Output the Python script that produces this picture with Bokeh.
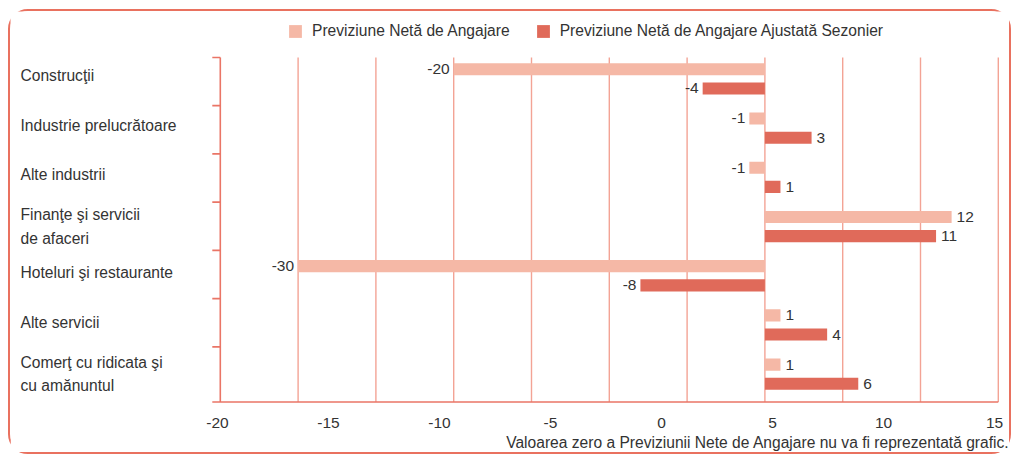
from bokeh.plotting import figure
from bokeh.models import (Range1d, LinearAxis, FixedTicker, ColumnDataSource,
                          Legend, LegendItem, Title)
from bokeh.embed import file_html
from bokeh.resources import INLINE
from bokeh.core.properties import value

# ---------------- data ----------------
categories = [
    "Construcţii",
    "Industrie prelucrătoare",
    "Alte industrii",
    "Finanţe şi servicii\nde afaceri",
    "Hoteluri şi restaurante",
    "Alte servicii",
    "Comerţ cu ridicata şi\ncu amănuntul",
]
neta = [-20, -1, -1, 12, -30, 1, 1]
ajustata = [-4, 3, 1, 11, -8, 4, 6]
series_names = ["Previziune Netă de Angajare",
                "Previziune Netă de Angajare Ajustată Sezonier"]
tick_labels = [-20, -15, -10, -5, 0, 5, 10, 15]
grid_values = [-35, -30, -25, -20, -15, -10, -5, 0, 5, 10, 15]
footnote = "Valoarea zero a Previziunii Nete de Angajare nu va fi reprezentată grafic."

# ---------------- style ----------------
FONT = "Liberation Sans"
LIGHT = "#F5B8A6"
DARK = "#E06A5A"
GRID = "#F3A395"
AXIS = "#EA7566"
TEXT = "#333333"

W = 999          # frame width (px)
FH = 392         # frame height (px)
PX = 15.56       # px per data unit
ZERO_PX = 754.4  # px position of zero inside the frame
x_start = -ZERO_PX / PX
x_end = (W - ZERO_PX) / PX
LAB_PX = 22.2
lab_start = -20 - 207 / LAB_PX
lab_end = 15 + (W - 984) / LAB_PX

p = figure(frame_width=W, frame_height=FH,
           x_range=Range1d(x_start, x_end), y_range=Range1d(7.03, -0.933),
           x_axis_location=None, y_axis_location=None,
           toolbar_location=None, output_backend="svg",
           min_border=0, outline_line_color=None)
p.grid.visible = False
p.background_fill_color = "white"
p.border_fill_color = "white"
p.styles = {"border": "2px solid #E9715F", "border-radius": "20px",
            "margin-left": "8px", "margin-top": "9px"}
p.extra_x_ranges = {"lab": Range1d(lab_start, lab_end)}

left_edge = grid_values[0]
n = len(categories)
tick_len = 8 / PX

# grid lines
gx = grid_values[1:]
p.segment(x0=gx, x1=gx, y0=[0] * len(gx), y1=[n] * len(gx),
          line_color=GRID, line_width=1.4)
# axis lines
p.segment(x0=[left_edge], x1=[left_edge], y0=[0], y1=[n],
          line_color=AXIS, line_width=1.6)
p.segment(x0=[left_edge - tick_len], x1=[grid_values[-1]], y0=[n], y1=[n],
          line_color=AXIS, line_width=1.6)
tick_y = [i * 0.98 for i in range(n)]
p.segment(x0=[left_edge - tick_len] * n, x1=[left_edge] * n, y0=tick_y, y1=tick_y,
          line_color=AXIS, line_width=1.6)

# bars
y_light = [i + 0.24 for i in range(n)]
y_dark = [i + 0.63 for i in range(n)]
r1 = p.hbar(y=y_light, left=0, right=neta, height=0.245,
            fill_color=LIGHT, line_color=None)
r2 = p.hbar(y=y_dark, left=0, right=ajustata, height=0.245,
            fill_color=DARK, line_color=None)

# value labels
def labels_src(vals, ys):
    return ColumnDataSource(dict(
        x=vals, y=ys, t=[str(v) for v in vals],
        align=["right" if v < 0 else "left" for v in vals],
        off=[-4 if v < 0 else 5 for v in vals]))

for vals, ys in ((neta, y_light), (ajustata, y_dark)):
    p.text(x="x", y="y", text="t", source=labels_src(vals, ys),
           text_align="align", x_offset="off", text_baseline="middle",
           text_font=value(FONT), text_font_size="15.5px", text_color=TEXT)

# category labels
label_x = x_start + 10 / PX
cat_y = [i + (0.43 if "\n" in c else 0.375) for i, c in enumerate(categories)]
p.text(x=[label_x] * n, y=cat_y, text=categories,
       text_align="left", text_baseline="middle", text_line_height=1.4,
       text_font=value(FONT), text_font_size="15.6px", text_color=TEXT)

# bottom axis with the printed tick labels
ax = LinearAxis(x_range_name="lab", ticker=FixedTicker(ticks=tick_labels),
                axis_line_color=None, major_tick_line_color=None,
                minor_tick_line_color=None, major_label_standoff=8,
                major_label_overrides={t: str(t) for t in tick_labels},
                major_label_text_font=FONT, major_label_text_font_size="15.5px",
                major_label_text_color=TEXT)
p.add_layout(ax, "below")

note = Title(text=footnote, align="right", text_font=FONT,
             text_font_size="15.6px", text_font_style="normal",
             text_color=TEXT, standoff=3)
p.add_layout(note, "below")

legend = Legend(items=[LegendItem(label=series_names[0], renderers=[r1]),
                       LegendItem(label=series_names[1], renderers=[r2])],
                orientation="horizontal", location=(277, 363),
                glyph_width=16, glyph_height=16, label_standoff=9, spacing=25,
                padding=0, margin=0, border_line_color=None,
                background_fill_alpha=0, label_text_font=FONT,
                label_text_font_size="15.6px", label_text_color=TEXT)
p.add_layout(legend)

open("out.html", "w").write(file_html(p, INLINE))
